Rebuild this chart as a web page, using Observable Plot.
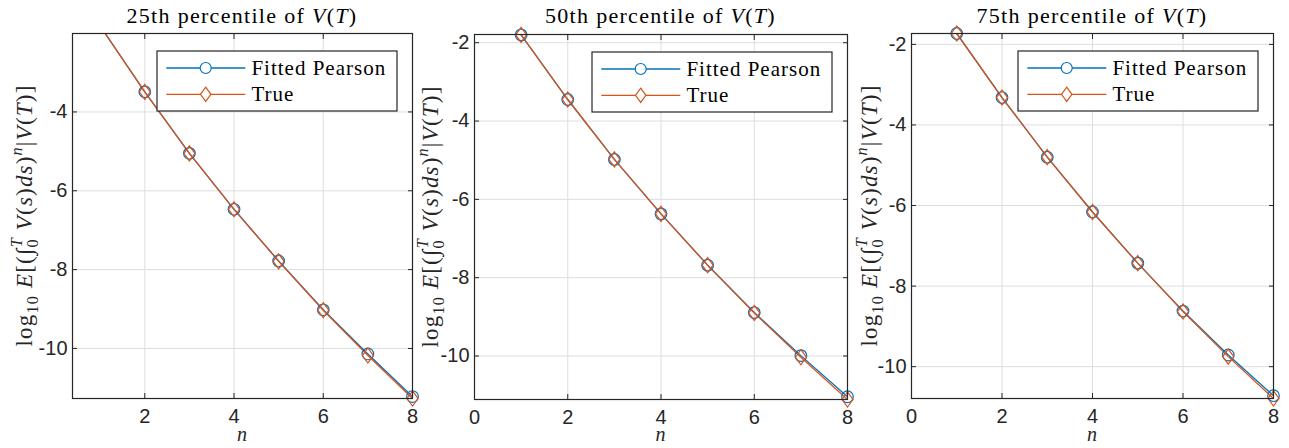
<!DOCTYPE html>
<html><head><meta charset="utf-8">
<script src="https://cdn.jsdelivr.net/npm/d3@7"></script>
<script src="https://cdn.jsdelivr.net/npm/@observablehq/plot@0.6"></script>
<style>
body{margin:0;background:#fff;}
#wrap{position:relative;width:1289px;height:448px;overflow:hidden;background:#fff;}
.panel{position:absolute;top:0;}
.panel svg{overflow:visible;}
</style></head><body><div id="wrap"></div>
<script>
// ---- data ----
const n = [1, 2, 3, 4, 5, 6, 7, 8];
const p25Fitted = [-1.82, -3.49, -5.05, -6.47, -7.78, -9.02, -10.14, -11.22];
const p25True   = [-1.82, -3.49, -5.05, -6.47, -7.79, -9.03, -10.18, -11.27];
const p50Fitted = [-1.80, -3.45, -4.98, -6.37, -7.68, -8.89, -9.99, -11.04];
const p50True   = [-1.80, -3.45, -4.98, -6.37, -7.68, -8.90, -10.03, -11.11];
const p75Fitted = [-1.73, -3.32, -4.80, -6.16, -7.43, -8.62, -9.71, -10.72];
const p75True   = [-1.73, -3.32, -4.80, -6.16, -7.43, -8.63, -9.75, -10.79];
const percentiles = ["25th", "50th", "75th"];
const seriesNames = ["Fitted Pearson", "True"];
const xTicks1 = [2, 4, 6, 8];
const xTicks23 = [0, 2, 4, 6, 8];
const yTicks1 = [-10, -8, -6, -4];
const yTicks23 = [-10, -8, -6, -4, -2];

const BLUE = "#0072BD", ORANGE = "#D95319", AX = "#262626", GRID = "#dedede";
const SERIF = "'Liberation Serif', 'Times New Roman', serif";

const panels = [
  {left: 0,   width: 430, mL: 72, mR: 18, mT: 33, mB: 50, xd: [0.38, 8], yd: [-11.27, -2.01], xt: xTicks1,  yt: yTicks1,  fit: p25Fitted, tru: p25True, labOff: 40},
  {left: 430, width: 430, mL: 44, mR: 13, mT: 34, mB: 49, xd: [0, 8],    yd: [-11.11, -1.79], xt: xTicks23, yt: yTicks23, fit: p50Fitted, tru: p50True, labOff: 36},
  {left: 860, width: 429, mL: 51, mR: 16, mT: 33, mB: 50, xd: [0, 8],    yd: [-10.79, -1.73], xt: xTicks23, yt: yTicks23, fit: p75Fitted, tru: p75True, labOff: 34}
];

const diamond = {
  draw(ctx, size) {
    const r = Math.sqrt(size / Math.PI);
    const w = r * 0.95, h = r * 1.3;
    ctx.moveTo(0, -h); ctx.lineTo(w, 0); ctx.lineTo(0, h); ctx.lineTo(-w, 0); ctx.closePath();
  }
};

function mathText(textSel, segs, fs) {
  let cur = 0;
  for (const [t, st, extra] of segs) {
    const small = st.startsWith("sub") || st.startsWith("sup");
    let target = 0;
    if (st.startsWith("sub")) target = 0.28 * fs;
    if (st.startsWith("sup")) target = -0.42 * fs;
    const ts = textSel.append("tspan").text(t);
    ts.attr("dy", target - cur);
    cur = target;
    if (small) ts.style("font-size", (0.7 * fs) + "px");
    if (st.endsWith("i")) ts.style("font-style", "italic");
    if (extra) ts.attr("dx", extra);
  }
}

const wrap = document.getElementById("wrap");
const H = 448;

panels.forEach((p, i) => {
  const inDomain = (v) => v >= p.yd[0] - 1e-9 && v <= p.yd[1] + 1e-9;
  const fitData = n.map((k, j) => ({n: k, v: p.fit[j]}));
  const truData = n.map((k, j) => ({n: k, v: p.tru[j]}));
  const chart = Plot.plot({
    width: p.width, height: H,
    marginLeft: p.mL, marginRight: p.mR, marginTop: p.mT, marginBottom: p.mB,
    style: {background: "transparent", overflow: "visible", fontFamily: "'Liberation Sans', Arial, sans-serif", fontSize: "20px", color: AX},
    x: {domain: p.xd},
    y: {domain: p.yd},
    marks: [
      Plot.gridX(p.xt, {stroke: GRID, strokeOpacity: 1}),
      Plot.gridY(p.yt, {stroke: GRID, strokeOpacity: 1}),
      Plot.line(fitData, {x: "n", y: "v", stroke: BLUE, strokeWidth: 1.3, clip: true}),
      Plot.line(truData, {x: "n", y: "v", stroke: ORANGE, strokeWidth: 1.3, clip: true}),
      Plot.dot(fitData.filter(d => inDomain(d.v)), {x: "n", y: "v", r: 5.8, stroke: BLUE, fill: "none", strokeWidth: 1.2}),
      Plot.dot(truData.filter(d => inDomain(d.v)), {x: "n", y: "v", r: 5.8, symbol: diamond, stroke: ORANGE, fill: "none", strokeWidth: 1.2}),
      Plot.axisX({anchor: "bottom", ticks: p.xt, tickSize: -5, tickFormat: () => "", label: null, stroke: AX}),
      Plot.axisX({anchor: "top", ticks: p.xt, tickSize: -5, tickFormat: () => "", label: null, stroke: AX}),
      Plot.axisY({anchor: "left", ticks: p.yt, tickSize: -5, tickFormat: () => "", label: null, stroke: AX}),
      Plot.axisY({anchor: "right", ticks: p.yt, tickSize: -5, tickFormat: () => "", label: null, stroke: AX}),
      Plot.axisX({anchor: "bottom", ticks: p.xt, tickSize: 0, tickPadding: 10, tickFormat: d => String(d), label: null, fill: AX}),
      Plot.axisY({anchor: "left", ticks: p.yt, tickSize: 0, tickPadding: 5, tickFormat: d => String(d), label: null, fill: AX}),
      Plot.frame({stroke: AX, strokeWidth: 1.2})
    ]
  });
  const div = document.createElement("div");
  div.className = "panel";
  div.style.left = p.left + "px";
  div.style.width = p.width + "px";
  div.appendChild(chart);
  wrap.appendChild(div);

  const svg = d3.select(chart);
  const x0 = p.mL, x1 = p.width - p.mR, y0 = p.mT, y1 = H - p.mB;
  const cx = (x0 + x1) / 2, cy = (y0 + y1) / 2;

  // title
  const title = svg.append("text").attr("x", cx).attr("y", 23)
    .style("text-anchor", "middle").style("font-family", SERIF).style("font-size", "22px")
    .style("letter-spacing", "1.3px").attr("fill", "#000");
  mathText(title, [[percentiles[i] + " percentile of ", ""], ["V", "i"], ["(", ""], ["T", "i"], [")", ""]], 22);

  // x label
  svg.append("text").attr("x", cx).attr("y", 441)
    .style("text-anchor", "middle").style("font-family", SERIF).style("font-size", "20px")
    .style("font-style", "italic").attr("fill", AX).text("n");

  // y label
  const fs = 23;
  const yl = svg.append("text").attr("transform", `translate(${x0 - p.labOff},${cy}) rotate(-90)`)
    .style("text-anchor", "middle").style("font-family", SERIF).style("font-size", fs + "px")
    .style("letter-spacing", "1.2px").attr("fill", AX);
  mathText(yl, [
    ["log", ""], ["10", "sub"], [" ", ""], ["E", "i"], ["[(", ""], ["∫", ""],
    ["0", "sub"], ["T", "supi", -9], [" V", "i"], ["(", ""], ["s", "i"], [")", ""], ["ds", "i"], [")", ""],
    ["n", "supi"], ["|", ""], ["V", "i"], ["(", ""], ["T", "i"], [")]", ""]
  ], fs);

  // legend
  const lw = 240, lh = 60;
  const lx = x1 - 15 - lw, ly = y0 + 18;
  const g = svg.append("g");
  g.append("rect").attr("x", lx).attr("y", ly).attr("width", lw).attr("height", lh)
    .attr("fill", "#fff").attr("stroke", AX).attr("stroke-width", 1.2);
  const rows = [{name: seriesNames[0], color: BLUE, sym: d3.symbolCircle}, {name: seriesNames[1], color: ORANGE, sym: diamond}];
  rows.forEach((r, k) => {
    const ry = ly + 17 + k * 26.3;
    g.append("line").attr("x1", lx + 9.3).attr("x2", lx + 88.3).attr("y1", ry).attr("y2", ry)
      .attr("stroke", r.color).attr("stroke-width", 1.3);
    g.append("path").attr("d", d3.symbol(r.sym, Math.PI * 5.5 * 5.5)())
      .attr("transform", `translate(${lx + 48.7},${ry})`).attr("fill", "#fff").attr("stroke", r.color).attr("stroke-width", 1.2);
    g.append("text").attr("x", lx + 94.4).attr("y", ry + 7)
      .style("text-anchor", "start").style("font-family", SERIF).style("font-size", "21px")
      .style("letter-spacing", "1px").attr("fill", "#000").text(r.name);
  });
});
</script></body></html>
